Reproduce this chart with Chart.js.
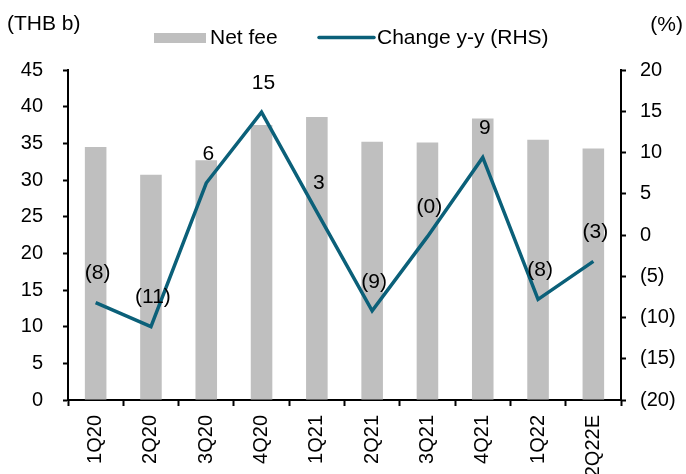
<!DOCTYPE html>
<html>
<head>
<meta charset="utf-8">
<script src="https://cdn.jsdelivr.net/npm/chart.js@4"></script>
<style>
  body { margin: 0; background: #fff; }
  canvas { display: block; }
</style>
</head>
<body>
<canvas id="myChart" width="686" height="474"></canvas>
<script>
const categories = ["1Q20", "2Q20", "3Q20", "4Q20", "1Q21", "2Q21", "3Q21", "4Q21", "1Q22", "2Q22E"];
const netFee = [34.5, 30.7, 32.7, 37.5, 38.6, 35.2, 35.1, 38.4, 35.5, 34.3];
const changeYY = [-8.2, -11.1, 6.3, 14.9, 2.8, -9.2, -0.2, 9.4, -7.8, -3.2];
const leftTicks = [0, 5, 10, 15, 20, 25, 30, 35, 40, 45];
const rightTicks = [-20, -15, -10, -5, 0, 5, 10, 15, 20];

const FONT = "'Liberation Sans', Arial, sans-serif";
const barColor = "#bfbfbf";
const lineColor = "#0b6079";

// negatives shown in brackets
const fmt = v => (v < 0 ? "(" + Math.abs(v) + ")" : String(v));
const fmtLabel = v => {
  const r = Math.round(Math.abs(v));
  return v < 0 ? "(" + r + ")" : String(r);
};

// legend, unit titles and value labels
const extras = {
  id: "extras",
  afterDatasetsDraw(chart) {
    const ctx = chart.ctx;
    const meta = chart.getDatasetMeta(1);
    ctx.save();
    ctx.font = "21px " + FONT;
    ctx.fillStyle = "#000";
    ctx.textAlign = "center";
    ctx.textBaseline = "middle";
    meta.data.forEach((pt, i) => {
      ctx.fillText(fmtLabel(changeYY[i]), pt.x + 2, pt.y - 29);
    });
    ctx.restore();
  },
  afterDraw(chart) {
    const ctx = chart.ctx;
    ctx.save();
    ctx.font = "21px " + FONT;
    ctx.fillStyle = "#000";
    ctx.textBaseline = "middle";
    ctx.textAlign = "left";
    ctx.fillText("(THB b)", 7, 24);
    ctx.textAlign = "right";
    ctx.fillText("(%)", 683, 25);

    // legend
    ctx.textAlign = "left";
    ctx.fillStyle = barColor;
    ctx.fillRect(154, 33, 52, 10);
    ctx.fillStyle = "#000";
    ctx.fillText("Net fee", 210, 38);
    ctx.strokeStyle = lineColor;
    ctx.lineWidth = 3.5;
    ctx.lineCap = "round";
    ctx.beginPath();
    ctx.moveTo(319, 37.5);
    ctx.lineTo(374, 37.5);
    ctx.stroke();
    ctx.fillText("Change y-y (RHS)", 377, 38);
    ctx.restore();
  }
};

const ctx = document.getElementById("myChart").getContext("2d");
const chart = new Chart(ctx, {
  type: "bar",
  data: {
    labels: categories,
    datasets: [
      {
        label: "Net fee",
        data: netFee,
        backgroundColor: barColor,
        borderWidth: 0,
        barPercentage: 0.39,
        categoryPercentage: 1,
        yAxisID: "y",
        order: 2
      },
      {
        type: "line",
        label: "Change y-y (RHS)",
        data: changeYY,
        borderColor: lineColor,
        borderWidth: 3.5,
        pointRadius: 0,
        tension: 0,
        fill: false,
        yAxisID: "y1",
        order: 1
      }
    ]
  },
  options: {
    responsive: false,
    animation: false,
    layout: { padding: { top: 70, left: 0, right: 0, bottom: 0 } },
    plugins: {
      legend: { display: false },
      tooltip: { enabled: false }
    },
    scales: {
      x: {
        offset: true,
        grid: {
          offset: true,
          drawOnChartArea: false,
          drawTicks: true,
          tickLength: 6,
          tickWidth: 2,
          tickColor: "#000"
        },
        border: { display: true, color: "#000", width: 2 },
        ticks: {
          color: "#000",
          font: { family: FONT, size: 20 },
          maxRotation: 90,
          minRotation: 90,
          autoSkip: false,
          padding: 9
        },
        afterFit: s => { s.height = 74; }
      },
      y: {
        position: "left",
        min: 0,
        max: 45,
        afterBuildTicks: s => { s.ticks = leftTicks.map(v => ({ value: v })); },
        grid: {
          drawOnChartArea: false,
          drawTicks: true,
          tickLength: 5,
          tickWidth: 2,
          tickColor: "#000"
        },
        border: { display: true, color: "#000", width: 2 },
        ticks: {
          color: "#000",
          font: { family: FONT, size: 20 },
          padding: 20,
          callback: v => fmt(v)
        },
        afterFit: s => { s.width = 68; }
      },
      y1: {
        position: "right",
        min: -20,
        max: 20,
        afterBuildTicks: s => { s.ticks = rightTicks.map(v => ({ value: v })); },
        grid: {
          drawOnChartArea: false,
          drawTicks: true,
          tickLength: 5,
          tickWidth: 2,
          tickColor: "#000"
        },
        border: { display: true, color: "#000", width: 2 },
        ticks: {
          color: "#000",
          font: { family: FONT, size: 20 },
          padding: 14,
          callback: v => fmt(v)
        },
        afterFit: s => { s.width = 65; }
      }
    }
  },
  plugins: [extras]
});
</script>
</body>
</html>
